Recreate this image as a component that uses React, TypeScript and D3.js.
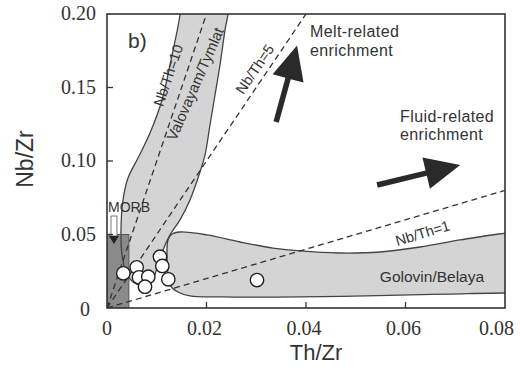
import * as d3 from 'd3';

// axis ticks
const xTicks = [0, 0.02, 0.04, 0.06, 0.08];
const xTickLabels = ['0', '0.02', '0.04', '0.06', '0.08'];
const yTicks = [0, 0.05, 0.1, 0.15, 0.2];
const yTickLabels = ['0', '0.05', '0.10', '0.15', '0.20'];

// sample points (Th/Zr, Nb/Zr)
const sampleTh = [0.00328, 0.00597, 0.00643, 0.0083, 0.00764, 0.01065, 0.01112, 0.01232, 0.03015];
const sampleNb = [0.0236, 0.0277, 0.0209, 0.0213, 0.0145, 0.0349, 0.0286, 0.0195, 0.019];

// Nb/Th reference ratios
const ratios = [10, 5, 1];

// Valovayam/Tymlat field outline
const valovayamTh = [
  0.01467, 0.01286, 0.01106, 0.00864, 0.00623, 0.00422, 0.00322, 0.00281, 0.00302, 0.00382,
  0.00523, 0.00704, 0.00905, 0.01025, 0.01126, 0.01266, 0.01467, 0.01668, 0.01869, 0.0197,
  0.0207, 0.02171, 0.02271, 0.02372, 0.02432, 0.0245, 0.0147,
];
const valovayamNb = [
  0.2, 0.1687, 0.1415, 0.119, 0.102, 0.0884, 0.0735, 0.0531, 0.0361, 0.0245,
  0.0177, 0.0156, 0.019, 0.0293, 0.0395, 0.0497, 0.0599, 0.0735, 0.0925, 0.1041,
  0.1245, 0.1449, 0.1653, 0.1891, 0.2, 0.21, 0.21,
];

// Golovin/Belaya field outline
const golovinTh = [
  0.01266, 0.01226, 0.01206, 0.01226, 0.01307, 0.01467, 0.0201, 0.02673, 0.03337, 0.03879,
  0.04683, 0.05487, 0.06291, 0.07095, 0.08, 0.082, 0.082, 0.08, 0.06894, 0.0589, 0.03879,
  0.02271, 0.01668, 0.01427,
];
const golovinNb = [
  0.0156, 0.0224, 0.0361, 0.0463, 0.0503, 0.0517, 0.0497, 0.0449, 0.0408, 0.0388,
  0.0374, 0.0381, 0.0415, 0.0463, 0.051, 0.052, 0.01, 0.0102, 0.0095, 0.0088, 0.0075,
  0.0075, 0.0082, 0.0109,
];

// MORB box
const morbTh = [0, 0.0044];
const morbNb = [0, 0.05];

// enrichment arrows [start, tip]
const meltArrowTh = [0.034, 0.0382];
const meltArrowNb = [0.1265, 0.1785];
const fluidArrowTh = [0.0543, 0.071];
const fluidArrowNb = [0.0837, 0.0973];

const W = 520;
const H = 374;
const sans = "'Liberation Sans', Arial, sans-serif";
const serif = "'Liberation Serif', 'Times New Roman', serif";
const ink = '#333';

function arrowPath(x0: number, y0: number, x1: number, y1: number, shaft: number, headLen: number, headHalf: number) {
  const dx = x1 - x0;
  const dy = y1 - y0;
  const len = Math.hypot(dx, dy);
  const ux = dx / len;
  const uy = dy / len;
  const nx = -uy;
  const ny = ux;
  const bx = x1 - ux * headLen;
  const by = y1 - uy * headLen;
  const pts = [
    [x0 + nx * shaft / 2, y0 + ny * shaft / 2],
    [bx + nx * shaft / 2, by + ny * shaft / 2],
    [bx + nx * headHalf, by + ny * headHalf],
    [x1, y1],
    [bx - nx * headHalf, by - ny * headHalf],
    [bx - nx * shaft / 2, by - ny * shaft / 2],
    [x0 - nx * shaft / 2, y0 - ny * shaft / 2],
  ];
  return 'M' + pts.map((p) => p.join(',')).join('L') + 'Z';
}

export default function App() {
  const x = d3.scaleLinear().domain([0, 0.08]).range([107, 505]);
  const y = d3.scaleLinear().domain([0, 0.2]).range([308, 14]);

  const smooth = d3
    .line<[number, number]>()
    .x((d) => x(d[0]))
    .y((d) => y(d[1]))
    .curve(d3.curveCatmullRomClosed.alpha(0.5));

  const valovayam = valovayamTh.map((t, i) => [t, valovayamNb[i]] as [number, number]);
  const golovin = golovinTh.map((t, i) => [t, golovinNb[i]] as [number, number]);

  // angle of a ratio line on screen
  const angleOf = (k: number) => (Math.atan2(y(0) - y(k * 0.01), x(0.01) - x(0)) * 180) / Math.PI;

  const ratioEnd = (k: number) => (k * 0.08 > 0.2 ? [0.2 / k, 0.2] : [0.08, 0.08 * k]);

  const morbX = x(0.0014);

  return (
    <svg width={W} height={H} style={{ position: 'absolute', left: 0, top: 0, background: '#fff' }}>
      <defs>
        <clipPath id="plot">
          <rect x={x(0)} y={y(0.2)} width={x(0.08) - x(0)} height={y(0) - y(0.2)} />
        </clipPath>
      </defs>
      <rect width={W} height={H} fill="#fff" />

      <g clipPath="url(#plot)">
        <path d={smooth(valovayam) || ''} fill="#d4d4d4" />
        <path d={smooth(golovin) || ''} fill="#d4d4d4" />
        <rect
          x={x(morbTh[0])}
          y={y(morbNb[1])}
          width={x(morbTh[1]) - x(morbTh[0])}
          height={y(morbNb[0]) - y(morbNb[1])}
          fill="#8a8a8a"
        />
        <path d={smooth(valovayam) || ''} fill="none" stroke="#444" strokeWidth={1.3} />
        <path d={smooth(golovin) || ''} fill="none" stroke="#444" strokeWidth={1.3} />
        <rect
          x={x(morbTh[0])}
          y={y(morbNb[1])}
          width={x(morbTh[1]) - x(morbTh[0])}
          height={y(morbNb[0]) - y(morbNb[1])}
          fill="none"
          stroke="#555"
          strokeWidth={1}
        />

        {ratios.map((k) => {
          const [ex, ey] = ratioEnd(k);
          return (
            <line
              key={k}
              x1={x(0)}
              y1={y(0)}
              x2={x(ex)}
              y2={y(ey)}
              stroke="#333"
              strokeWidth={1.3}
              strokeDasharray="6 4"
            />
          );
        })}
      </g>

      {/* MORB marker */}
      <text x={x(0) + 1} y={212} fontFamily={sans} fontSize={14} fill={ink}>
        MORB
      </text>
      <rect x={morbX - 3} y={216} width={6} height={20} fill="#fff" stroke="#555" strokeWidth={0.8} />
      <path d={`M${morbX - 5},236L${morbX + 5},236L${morbX},244Z`} fill="#222" />

      {/* samples */}
      {sampleTh.map((t, i) => (
        <circle key={i} cx={x(t)} cy={y(sampleNb[i])} r={6.7} fill="#fff" stroke="#222" strokeWidth={1.4} />
      ))}

      {/* arrows */}
      <path
        d={arrowPath(x(meltArrowTh[0]), y(meltArrowNb[0]), x(meltArrowTh[1]), y(meltArrowNb[1]), 5.5, 34, 16)}
        fill="#2a2a2a"
      />
      <path
        d={arrowPath(x(fluidArrowTh[0]), y(fluidArrowNb[0]), x(fluidArrowTh[1]), y(fluidArrowNb[1]), 5.5, 35, 16)}
        fill="#2a2a2a"
      />

      {/* labels */}
      <text x={128} y={48} fontFamily={sans} fontSize={21} fill={ink}>
        b)
      </text>
      <text
        transform={`translate(173,77) rotate(${-angleOf(10)})`}
        textAnchor="middle"
        fontFamily={sans}
        fontSize={14.5}
        fill={ink}
      >
        Nb/Th=10
      </text>
      <text
        transform={`translate(200,86) rotate(-66.5)`}
        textAnchor="middle"
        fontFamily={sans}
        fontSize={15}
        fill={ink}
      >
        Valovayam/Tymlat
      </text>
      <text
        transform={`translate(259,72) rotate(${-angleOf(5)})`}
        textAnchor="middle"
        fontFamily={sans}
        fontSize={14.5}
        fill={ink}
      >
        Nb/Th=5
      </text>
      <text
        transform={`translate(424,238) rotate(${-angleOf(1)})`}
        textAnchor="middle"
        fontFamily={sans}
        fontSize={14.5}
        fill={ink}
      >
        Nb/Th=1
      </text>
      <text x={432} y={282} textAnchor="middle" fontFamily={sans} fontSize={15.5} fill={ink}>
        Golovin/Belaya
      </text>
      <text fontFamily={sans} fontSize={16} fill={ink} letterSpacing={0.4}>
        <tspan x={310} y={37}>Melt-related</tspan>
        <tspan x={310} y={56}>enrichment</tspan>
      </text>
      <text fontFamily={sans} fontSize={16} fill={ink} letterSpacing={0.4}>
        <tspan x={400} y={122}>Fluid-related</tspan>
        <tspan x={400} y={140}>enrichment</tspan>
      </text>

      {/* frame and ticks */}
      <rect
        x={x(0)}
        y={y(0.2)}
        width={x(0.08) - x(0)}
        height={y(0) - y(0.2)}
        fill="none"
        stroke="#333"
        strokeWidth={1.6}
      />
      {xTicks.slice(1, -1).map((t) => (
        <line key={t} x1={x(t)} x2={x(t)} y1={y(0)} y2={y(0) - 6} stroke="#333" strokeWidth={1.3} />
      ))}
      {yTicks.slice(1, -1).map((t) => (
        <line key={t} x1={x(0)} x2={x(0) + 6} y1={y(t)} y2={y(t)} stroke="#333" strokeWidth={1.3} />
      ))}
      {xTicks.map((t, i) => {
        const last = i === xTicks.length - 1;
        return (
          <text
            key={t}
            x={last ? 514 : x(t) - (i === 0 ? 0 : 2)}
            y={335}
            textAnchor={last ? 'end' : 'middle'}
            fontFamily={serif}
            fontSize={20}
            fill={ink}
          >
            {xTickLabels[i]}
          </text>
        );
      })}
      {yTicks.map((t, i) => (
        <text
          key={t}
          x={i === 0 ? 90 : 96}
          y={y(t) + (i === 0 ? 8 : 6)}
          textAnchor="end"
          fontFamily={serif}
          fontSize={20}
          fill={ink}
        >
          {yTickLabels[i]}
        </text>
      ))}
      <text x={316} y={360} textAnchor="middle" fontFamily={sans} fontSize={22} fill={ink}>
        Th/Zr
      </text>
      <text
        transform="translate(33,159) rotate(-90)"
        textAnchor="middle"
        fontFamily={sans}
        fontSize={23}
        fill={ink}
      >
        Nb/Zr
      </text>
    </svg>
  );
}
